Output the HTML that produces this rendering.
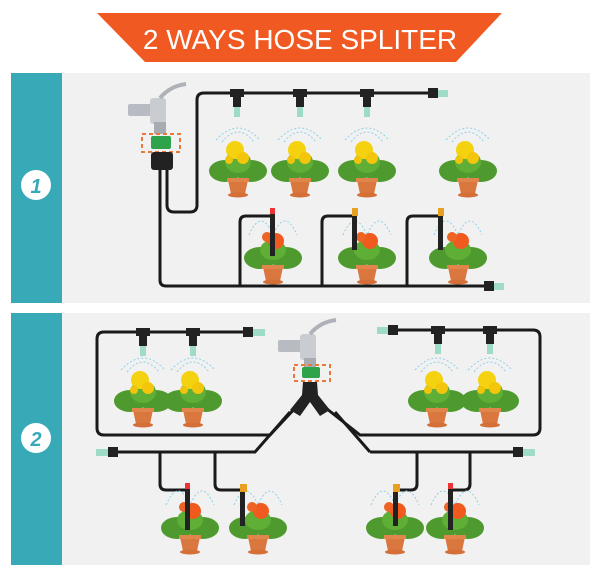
<!DOCTYPE html>
<html><head><meta charset="utf-8"><style>
html,body{margin:0;padding:0;background:#fff;width:600px;height:577px;overflow:hidden}
svg{display:block}
</style></head><body>
<svg width="600" height="577" viewBox="0 0 600 577" xmlns="http://www.w3.org/2000/svg">
<defs>
<g id="py">
 <path d="M-22,-38 Q0,-62 22,-38" fill="none" stroke="#8fd0ea" stroke-width="1" stroke-dasharray="2,2"/>
 <path d="M-16,-36 Q0,-56 16,-36" fill="none" stroke="#8fd0ea" stroke-width="1" stroke-dasharray="2,2"/>
 <ellipse cx="-13" cy="-7" rx="16" ry="11" fill="#4f9a2e"/>
 <ellipse cx="13" cy="-7" rx="16" ry="11" fill="#4f9a2e"/>
 <ellipse cx="0" cy="-16" rx="13" ry="11" fill="#5fae36"/>
 <circle cx="-3" cy="-28" r="9" fill="#f5d20f"/>
 <circle cx="5" cy="-20" r="6" fill="#f3c50c"/>
 <circle cx="-9" cy="-18" r="4" fill="#efc40b"/>
 <path d="M-10,2 L10,2 L7,16 L-7,16 Z" fill="#d9773f"/>
 <rect x="-11" y="0" width="22" height="4" fill="#e0864c"/>
 <ellipse cx="0" cy="17" rx="10" ry="2.5" fill="#d56f38"/>
</g>
<g id="po">
 <path d="M-24,-30 Q-12,-58 0,-30 Q12,-58 24,-30" fill="none" stroke="#8fd0ea" stroke-width="1" stroke-dasharray="2,2"/>
 <ellipse cx="-13" cy="-7" rx="16" ry="11" fill="#4f9a2e"/>
 <ellipse cx="13" cy="-7" rx="16" ry="11" fill="#4f9a2e"/>
 <ellipse cx="0" cy="-15" rx="13" ry="10" fill="#5fae36"/>
 <circle cx="3" cy="-24" r="8" fill="#f05a1e"/>
 <circle cx="-6" cy="-28" r="5" fill="#ee6424"/>
 <path d="M-10,2 L10,2 L7,16 L-7,16 Z" fill="#d9773f"/>
 <rect x="-11" y="0" width="22" height="4" fill="#e0864c"/>
 <ellipse cx="0" cy="17" rx="10" ry="2.5" fill="#d56f38"/>
</g>
<g id="tee"><rect x="-7" y="-4" width="14" height="8" fill="#222"/><rect x="-4" y="0" width="8" height="14" fill="#222"/><rect x="-3" y="14" width="6" height="10" fill="#9fdcc8"/></g>
<g id="tap">
 <rect x="-32" y="-8" width="30" height="12" fill="#b8bcc2" rx="2"/>
 <rect x="-10" y="-14" width="16" height="26" fill="#c9ccd1" rx="3"/>
 <path d="M0,-14 Q10,-26 26,-28" stroke="#aeb2b8" stroke-width="4" fill="none"/>
 <rect x="-6" y="10" width="12" height="12" fill="#a8acb2"/>
</g>
</defs>

<polygon points="97,13 502,13 456,62 145,62" fill="#f05a22"/>
<text x="300" y="49" text-anchor="middle" font-family="Liberation Sans, sans-serif" font-size="28" fill="#fff">2 WAYS HOSE SPLITER</text>

<rect x="11" y="73" width="51" height="230" fill="#37a9b7"/>
<rect x="62" y="73" width="528" height="230" fill="#f1f1f1"/>
<rect x="11" y="313" width="51" height="252" fill="#37a9b7"/>
<rect x="62" y="313" width="528" height="252" fill="#f1f1f1"/>
<circle cx="36" cy="185" r="15" fill="#fff"/>
<text x="36" y="193" text-anchor="middle" font-family="Liberation Sans, sans-serif" font-style="italic" font-weight="bold" font-size="20" fill="#37a9b7">1</text>
<circle cx="36" cy="438" r="15" fill="#fff"/>
<text x="36" y="446" text-anchor="middle" font-family="Liberation Sans, sans-serif" font-style="italic" font-weight="bold" font-size="20" fill="#37a9b7">2</text>

<g fill="none" stroke="#1a1a1a" stroke-width="3">
<path d="M160,170 L160,280 Q160,286 166,286 L490,286"/>
<path d="M167,170 L167,205 Q167,212 174,212 L190,212 Q197,212 197,205 L197,100 Q197,93 204,93 L430,93"/>
<path d="M240,286 L240,222 Q240,216 246,216 L272,216"/>
<path d="M322,286 L322,222 Q322,216 328,216 L352,216"/>
<path d="M407,286 L407,222 Q407,216 413,216 L440,216"/>
</g>
<rect x="428" y="88" width="10" height="10" fill="#222"/>
<rect x="438" y="90" width="10" height="7" fill="#9fdcc8"/>
<rect x="484" y="281" width="10" height="10" fill="#222"/>
<rect x="494" y="283" width="10" height="7" fill="#9fdcc8"/>
<use href="#tee" x="237" y="93"/><use href="#tee" x="300" y="93"/><use href="#tee" x="367" y="93"/>
<use href="#tap" x="160" y="112"/>
<rect x="142" y="134" width="38" height="18" fill="none" stroke="#e8793a" stroke-width="2" stroke-dasharray="4,3"/>
<rect x="151" y="136" width="20" height="13" fill="#2fa34a" rx="2"/>
<rect x="151" y="152" width="22" height="18" fill="#222" rx="3"/>
<use href="#py" x="238" y="178"/><use href="#py" x="300" y="178"/><use href="#py" x="367" y="178"/><use href="#py" x="468" y="178"/>
<use href="#po" x="273" y="265"/><use href="#po" x="367" y="265"/><use href="#po" x="458" y="265"/>
<rect x="270" y="208" width="5" height="48" fill="#222"/><rect x="270" y="208" width="5" height="6" fill="#e33"/>
<rect x="352" y="210" width="5" height="40" fill="#222"/><rect x="352" y="208" width="6" height="8" fill="#e8a020"/>
<rect x="438" y="210" width="5" height="40" fill="#222"/><rect x="438" y="208" width="6" height="8" fill="#e8a020"/>

<g fill="none" stroke="#1a1a1a" stroke-width="3">
<path d="M253,332 L104,332 Q97,332 97,339 L97,428 Q97,435 104,435 L270,435 L298,405"/>
<path d="M100,452 L255,452 L290,412"/>
<path d="M390,330 L533,330 Q540,330 540,337 L540,428 Q540,435 533,435 L360,435 L322,405"/>
<path d="M370,452 L520,452"/>
<path d="M370,452 L335,412"/>
<path d="M160,452 L160,484 Q160,490 166,490 L186,490"/>
<path d="M215,452 L215,484 Q215,490 221,490 L240,490"/>
<path d="M417,452 L417,484 Q417,490 411,490 L395,490"/>
<path d="M470,452 L470,484 Q470,490 464,490 L450,490"/>
</g>
<rect x="243" y="327" width="10" height="10" fill="#222"/><rect x="253" y="329" width="12" height="7" fill="#9fdcc8"/>
<rect x="388" y="325" width="10" height="10" fill="#222"/><rect x="377" y="327" width="11" height="7" fill="#9fdcc8"/>
<rect x="108" y="447" width="10" height="10" fill="#222"/><rect x="96" y="449" width="12" height="7" fill="#9fdcc8"/>
<rect x="513" y="447" width="10" height="10" fill="#222"/><rect x="523" y="449" width="12" height="7" fill="#9fdcc8"/>
<use href="#tee" x="143" y="332"/><use href="#tee" x="193" y="332"/><use href="#tee" x="438" y="330"/><use href="#tee" x="490" y="330"/>
<use href="#tap" x="310" y="348"/>
<rect x="294" y="365" width="36" height="16" fill="none" stroke="#e8793a" stroke-width="2" stroke-dasharray="4,3"/>
<rect x="302" y="367" width="18" height="11" fill="#2fa34a" rx="2"/>
<path d="M303,382 L317,382 L318,395 L330,410 L320,416 L310,402 L300,416 L290,410 L302,395 Z" fill="#222"/>
<use href="#py" x="143" y="408"/><use href="#py" x="193" y="408"/><use href="#py" x="437" y="408"/><use href="#py" x="490" y="408"/>
<use href="#po" x="190" y="535"/><use href="#po" x="258" y="535"/><use href="#po" x="395" y="535"/><use href="#po" x="455" y="535"/>
<rect x="185" y="485" width="5" height="45" fill="#222"/><rect x="185" y="483" width="5" height="6" fill="#e33"/>
<rect x="240" y="488" width="5" height="38" fill="#222"/><rect x="240" y="484" width="7" height="8" fill="#e8a020"/>
<rect x="393" y="488" width="5" height="38" fill="#222"/><rect x="393" y="484" width="7" height="8" fill="#e8a020"/>
<rect x="448" y="485" width="5" height="45" fill="#222"/><rect x="448" y="483" width="5" height="6" fill="#e33"/>
</svg>
</body></html>
